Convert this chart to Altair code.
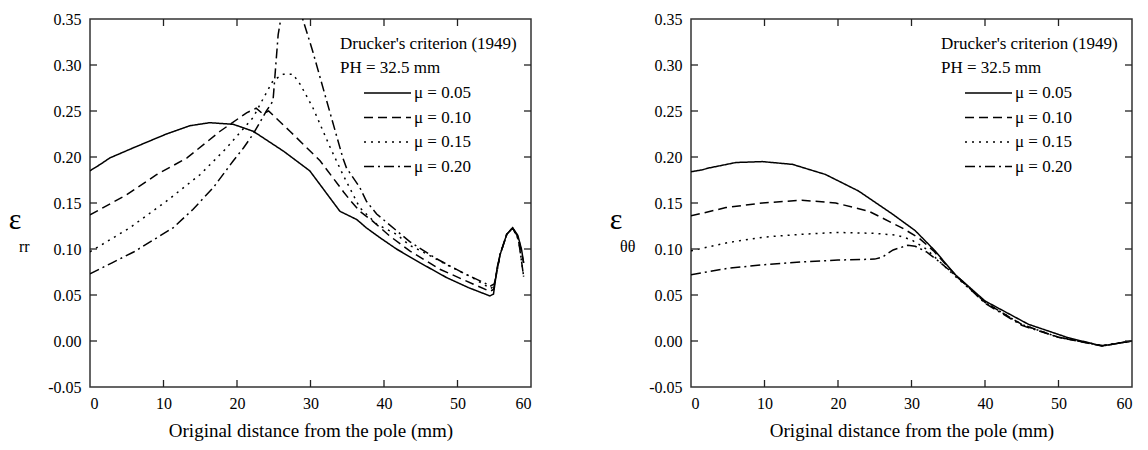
import altair as alt
import pandas as pd

FONT = "Liberation Serif"
LABELS = ["μ = 0.05", "μ = 0.10", "μ = 0.15", "μ = 0.20"]
DASHES = [[1, 0], [9, 5], [2, 5], [10, 4, 2, 4]]
X_TICKS = [0, 10, 20, 30, 40, 50, 60]
Y_TICKS = [-0.05, 0.0, 0.05, 0.10, 0.15, 0.20, 0.25, 0.30, 0.35]
LEGEND_TITLE = ["Drucker's criterion (1949)", "PH = 32.5 mm"]
X_TITLE = "Original distance from the pole (mm)"

# ---- left panel: eps_rr ----
RR05_X = [0, 1.4, 2.7, 5.9, 10.4, 13.6, 16.3, 19.5, 22.2, 26.3, 29.9, 34, 36.3, 37.6, 39.5, 41.7, 44.9, 48.5, 51.5, 54.4, 54.9, 55.4, 55.8, 56.7, 57.5, 58.2, 58.7, 59.0]
RR05_Y = [0.185, 0.192, 0.199, 0.210, 0.225, 0.234, 0.2373, 0.2355, 0.228, 0.2065, 0.185, 0.141, 0.132, 0.123, 0.112, 0.100, 0.085, 0.069, 0.058, 0.049, 0.051, 0.080, 0.094, 0.116, 0.123, 0.115, 0.100, 0.085]
RR10_X = [0, 5, 9.1, 13.2, 17.7, 21.3, 22.6, 23.5, 24.3, 27.2, 31.3, 34.5, 35.5, 36.7, 38.5, 40.8, 43.5, 47.6, 52.1, 54.4, 54.9, 55.8, 56.7, 57.5, 58.3, 59.0]
RR10_Y = [0.137, 0.159, 0.181, 0.199, 0.228, 0.248, 0.253, 0.247, 0.250, 0.228, 0.196, 0.162, 0.152, 0.141, 0.130, 0.114, 0.098, 0.078, 0.062, 0.054, 0.056, 0.094, 0.116, 0.123, 0.112, 0.085]
RR15_X = [0, 5.4, 10.4, 15, 18.6, 22.2, 23.6, 24.9, 26.3, 27.6, 28.6, 30.3, 32.7, 34.4, 36.7, 39, 41.7, 43.5, 45, 49, 52, 54.5, 55, 55.8, 56.7, 57.5, 58.3, 59.0]
RR15_Y = [0.097, 0.123, 0.152, 0.181, 0.210, 0.243, 0.264, 0.283, 0.290, 0.290, 0.279, 0.254, 0.210, 0.181, 0.145, 0.127, 0.116, 0.104, 0.098, 0.081, 0.069, 0.057, 0.060, 0.094, 0.116, 0.123, 0.110, 0.070]
RR20_X = [0, 3, 6, 11.3, 14, 16.8, 19.5, 20.9, 22.2, 24, 24.9, 25.6, 27.0, 30.3, 32.2, 34.4, 34.9, 36.7, 37.6, 39, 41.7, 43.5, 47, 51, 54.5, 55, 55.8, 56.7, 57.5, 58.3, 59.0]
RR20_Y = [0.073, 0.085, 0.097, 0.123, 0.143, 0.167, 0.196, 0.210, 0.225, 0.250, 0.261, 0.333, 0.400, 0.315, 0.261, 0.199, 0.188, 0.167, 0.152, 0.138, 0.120, 0.108, 0.090, 0.073, 0.060, 0.062, 0.094, 0.116, 0.123, 0.110, 0.070]

# ---- right panel: eps_thetatheta ----
TT05_X = [0, 1.5, 2.4, 6.1, 9.7, 13.8, 18.3, 22.8, 27.4, 30.5, 33.2, 35.9, 40, 45.9, 51.3, 55.9, 60]
TT05_Y = [0.184, 0.186, 0.188, 0.194, 0.195, 0.192, 0.181, 0.163, 0.138, 0.120, 0.098, 0.0725, 0.0435, 0.0182, 0.0036, -0.0054, 0.0]
TT10_X = [0, 4.75, 9.7, 15.1, 19.7, 24.2, 28.7, 31, 33, 35, 37, 40, 45, 50, 55.9, 60]
TT10_Y = [0.136, 0.145, 0.150, 0.153, 0.150, 0.141, 0.123, 0.112, 0.098, 0.080, 0.064, 0.042, 0.018, 0.004, -0.0054, 0.0]
TT15_X = [0, 5, 10, 15, 20, 25, 28, 30, 32, 34, 36, 40, 45, 50, 56, 60]
TT15_Y = [0.098, 0.107, 0.113, 0.116, 0.118, 0.117, 0.115, 0.110, 0.100, 0.085, 0.070, 0.042, 0.018, 0.004, -0.005, 0.0]
TT20_X = [0, 5, 10, 15, 20, 25, 26, 27.5, 29.5, 30.5, 32, 33.5, 35, 37, 40, 45, 50, 56, 60]
TT20_Y = [0.072, 0.079, 0.083, 0.086, 0.088, 0.089, 0.091, 0.099, 0.104, 0.103, 0.097, 0.088, 0.078, 0.064, 0.041, 0.017, 0.004, -0.005, 0.0]

W, H = 441, 368


def long_df(xs_list, ys_list):
    rows = []
    for lab, xs, ys in zip(LABELS, xs_list, ys_list):
        for i, (x, y) in enumerate(zip(xs, ys)):
            rows.append({"x": x, "y": y, "series": lab, "i": i})
    return pd.DataFrame(rows)


def panel(df, sub):
    xenc = alt.X("x:Q", scale=alt.Scale(domain=[0, 60], nice=False),
                 axis=alt.Axis(values=X_TICKS, ticks=False, domain=False, grid=False,
                               title=X_TITLE, labelPadding=8, titlePadding=10))
    yenc = alt.Y("y:Q", scale=alt.Scale(domain=[-0.05, 0.35], nice=False, zero=False),
                 axis=alt.Axis(values=Y_TICKS, ticks=False, domain=False,
                               labelExpr="replace(format(datum.value, '.2f'), '\u2212', '-')",
                               grid=False, title=None, labelPadding=9))
    dash = alt.StrokeDash("series:N", scale=alt.Scale(domain=LABELS, range=DASHES), legend=None)
    lines = alt.Chart(df).mark_line(clip=True, color="black", strokeWidth=1.5).encode(
        x=xenc, y=yenc, strokeDash=dash, order=alt.Order("i:Q"))

    xt = pd.DataFrame({"x": X_TICKS[1:-1]})
    yt = pd.DataFrame({"y": Y_TICKS[1:-1]})
    tick_col = "#222"
    layers = [lines]
    layers.append(alt.Chart(xt).mark_rule(color=tick_col, strokeWidth=1.3).encode(
        x="x:Q", y=alt.value(H), y2=alt.value(H - 7)))
    layers.append(alt.Chart(xt).mark_rule(color=tick_col, strokeWidth=1.3).encode(
        x="x:Q", y=alt.value(0), y2=alt.value(7)))
    layers.append(alt.Chart(yt).mark_rule(color=tick_col, strokeWidth=1.3).encode(
        y="y:Q", x=alt.value(0), x2=alt.value(7)))
    layers.append(alt.Chart(yt).mark_rule(color=tick_col, strokeWidth=1.3).encode(
        y="y:Q", x=alt.value(W), x2=alt.value(W - 7)))

    one = pd.DataFrame({"a": [0]})
    # legend (drawn by hand)
    for k, t in enumerate(LEGEND_TITLE):
        layers.append(alt.Chart(one).mark_text(align="left", baseline="middle",
                                               fontSize=17).encode(
            x=alt.value(250), y=alt.value(25 + 23.5 * k), text=alt.value(t)))
    for k, lab in enumerate(LABELS):
        yy = 74 + 24.5 * k
        layers.append(alt.Chart(one).mark_rule(color="black", strokeWidth=1.6).encode(
            x=alt.value(274), x2=alt.value(321), y=alt.value(yy),
            strokeDash=alt.value(DASHES[k])))
        layers.append(alt.Chart(one).mark_text(align="left", baseline="middle",
                                               fontSize=17).encode(
            x=alt.value(324), y=alt.value(yy), text=alt.value(lab)))
    # y-axis symbol with subscript
    layers.append(alt.Chart(one).mark_text(align="center", baseline="middle",
                                           fontSize=30).encode(
        x=alt.value(-75), y=alt.value(201), text=alt.value("ε")))
    layers.append(alt.Chart(one).mark_text(align="left", baseline="middle",
                                           fontSize=16).encode(
        x=alt.value(-71), y=alt.value(228), text=alt.value(sub)))

    return alt.layer(*layers).properties(width=W, height=H)


left = panel(long_df([RR05_X, RR10_X, RR15_X, RR20_X], [RR05_Y, RR10_Y, RR15_Y, RR20_Y]), "rr")
right = panel(long_df([TT05_X, TT10_X, TT15_X, TT20_X], [TT05_Y, TT10_Y, TT15_Y, TT20_Y]), "θθ")

chart = alt.hconcat(left, right, spacing=75).properties(
    padding={"left": 7, "top": 10, "right": 2, "bottom": 2},
    background="white",
).configure_view(stroke="#333", strokeWidth=1.5).configure_concat(spacing=75).configure_axis(
    labelFont=FONT, labelFontSize=16, labelColor="black", titleFont=FONT, titleFontSize=19,
    titleFontWeight="normal", titleColor="black"
).configure_text(font=FONT, color="black")

chart.save("out.html", embed_options={"renderer": "svg", "actions": False})
